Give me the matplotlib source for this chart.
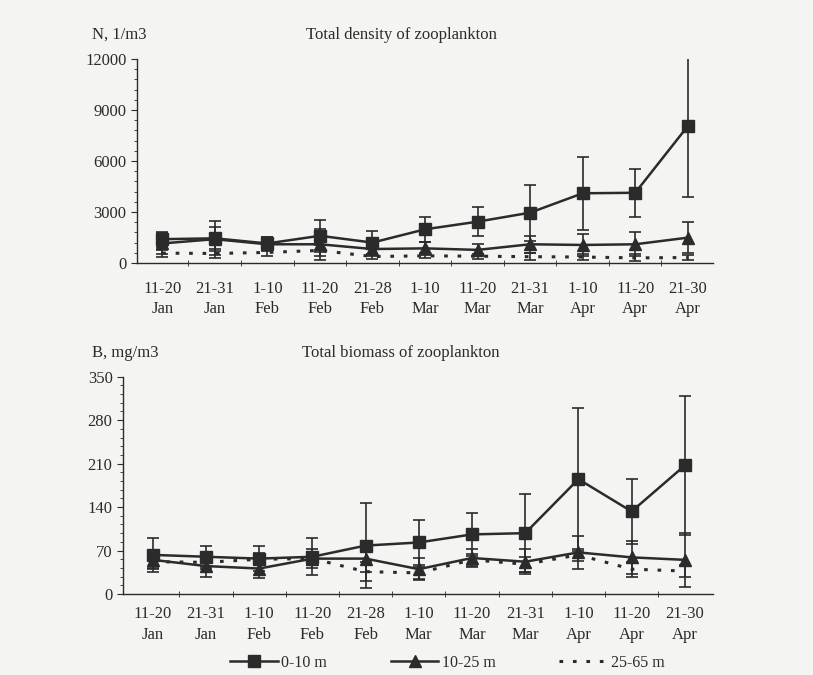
import numpy as np
import matplotlib
matplotlib.use("Agg")
import matplotlib.pyplot as plt
from matplotlib.ticker import MultipleLocator

# DATA

periods = ["11-20\nJan", "21-31\nJan", "1-10\nFeb", "11-20\nFeb", "21-28\nFeb", "1-10\nMar",
           "11-20\nMar", "21-31\nMar", "1-10\nApr", "11-20\nApr", "21-30\nApr"]
layers = ["0-10 m", "10-25 m", "25-65 m"]

dens_0_10 = [1400, 1450, 1150, 1600, 1200, 1980, 2430, 2960, 4100, 4130, 8050]
dens_0_10_err = [450, 1000, 400, 950, 700, 750, 850, 1650, 2150, 1400, 4150]
dens_10_25 = [1150, 1400, 1100, 1100, 820, 860, 770, 1100, 1060, 1100, 1490]
dens_10_25_err = [600, 700, 400, 900, 400, 400, 350, 500, 650, 700, 900]
dens_25_65 = [580, 560, 620, 740, 380, 420, 400, 370, 350, 300, 320]
dens_25_65_err = [200, 250, 200, 300, 150, 150, 150, 200, 200, 200, 150]

bio_0_10 = [63, 60, 57, 60, 78, 83, 96, 98, 185, 133, 207]
bio_0_10_err = [27, 17, 20, 30, 68, 37, 35, 63, 115, 52, 112]
bio_10_25 = [55, 45, 41, 57, 57, 40, 58, 52, 67, 59, 55]
bio_10_25_err = [15, 18, 15, 15, 22, 18, 15, 20, 26, 26, 43]
bio_25_65 = [52, 51, 56, 57, 36, 34, 55, 48, 63, 40, 37]
bio_25_65_err = [10, 10, 10, 10, 15, 10, 10, 12, 10, 12, 10]

INK = "#2b2b2b"

plt.rcParams["font.family"] = ["Liberation Serif", "DejaVu Serif"]
plt.rcParams["font.size"] = 12

fig = plt.figure(figsize=(8.13, 6.75), dpi=100, facecolor="#f4f4f2")

ax1 = fig.add_axes([0.1685, 0.6104, 0.7085, 0.3022])
ax2 = fig.add_axes([0.1513, 0.1200, 0.7257, 0.3219])

x = np.arange(len(periods))


def draw(ax, s1, e1, s2, e2, s3, e3, pad):
    ax.set_facecolor("none")
    ax.errorbar(x, s3, yerr=e3, color=INK, ls=(0, (1.2, 3.2)), lw=2.2,
                elinewidth=1.2, capsize=4, capthick=1.2, zorder=2)
    ax.errorbar(x, s2, yerr=e2, color=INK, marker="^", ms=8, lw=1.8,
                elinewidth=1.2, capsize=4, capthick=1.2, zorder=3)
    ax.errorbar(x, s1, yerr=e1, color=INK, marker="s", ms=9, lw=1.8,
                elinewidth=1.2, capsize=4, capthick=1.2, zorder=4)
    for s in ["top", "right"]:
        ax.spines[s].set_visible(False)
    for s in ["left", "bottom"]:
        ax.spines[s].set_color(INK)
        ax.spines[s].set_linewidth(1.0)
    ax.set_xticks(x)
    ax.set_xticklabels(periods, color=INK, linespacing=1.35)
    ax.set_xticks(x[:-1] + 0.5, minor=True)
    ax.tick_params(axis="x", which="major", length=0, pad=pad)
    ax.tick_params(axis="x", which="minor", length=4, direction="inout", color=INK)
    ax.tick_params(axis="y", which="major", length=4, color=INK, labelcolor=INK)
    ax.tick_params(axis="y", which="minor", length=2, color=INK)


draw(ax1, dens_0_10, dens_0_10_err, dens_10_25, dens_10_25_err, dens_25_65, dens_25_65_err, 13)
ax1.set_xlim(-0.48, 10.48)
ax1.set_ylim(0, 12000)
ax1.set_yticks([0, 3000, 6000, 9000, 12000])
ax1.yaxis.set_minor_locator(MultipleLocator(600))

draw(ax2, bio_0_10, bio_0_10_err, bio_10_25, bio_10_25_err, bio_25_65, bio_25_65_err, 9)
ax2.set_xlim(-0.56, 10.53)
ax2.set_ylim(0, 350)
ax2.set_yticks([0, 70, 140, 210, 280, 350])
ax2.yaxis.set_minor_locator(MultipleLocator(14))

fig.text(92 / 813, 1 - 35 / 675, "N, 1/m3", ha="left", va="center", color=INK)
fig.text(401 / 813, 1 - 35 / 675, "Total density of zooplankton", ha="center", va="center", color=INK)
fig.text(92 / 813, 1 - 353 / 675, "B, mg/m3", ha="left", va="center", color=INK)
fig.text(401 / 813, 1 - 353 / 675, "Total biomass of zooplankton", ha="center", va="center", color=INK)

h1 = plt.Line2D([], [], color=INK, marker="s", ms=9, lw=1.8)
h2 = plt.Line2D([], [], color=INK, marker="^", ms=8, lw=1.8)
h3 = plt.Line2D([], [], color=INK, ls=(0, (1.2, 3.2)), lw=2.2)
fig.legend([h1, h2, h3], layers, loc="center", bbox_to_anchor=(447 / 813, 1 - 663 / 675),
           ncol=3, frameon=False, handlelength=3, handletextpad=0.2, columnspacing=4,
           fontsize=11.5, labelcolor=INK)

fig.savefig("out.png", dpi=100, facecolor=fig.get_facecolor())
